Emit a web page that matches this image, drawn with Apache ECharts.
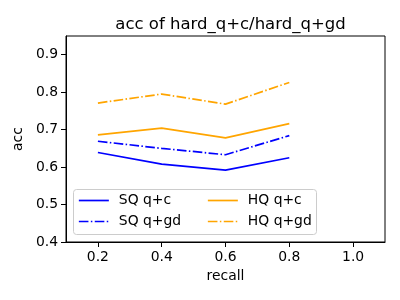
<!DOCTYPE html>
<html><head><meta charset="utf-8">
<script src="https://cdn.jsdelivr.net/npm/echarts@6/dist/echarts.min.js"></script>
<style>html,body{margin:0;padding:0;background:#fff}#c{width:400px;height:300px}</style>
</head><body><div id="c"></div>
<script>
const recall = [0.2, 0.4, 0.6, 0.8];
const sqQC = [0.639, 0.608, 0.592, 0.625];
const sqQGD = [0.669, 0.650, 0.633, 0.684];
const hqQC = [0.686, 0.704, 0.678, 0.716];
const hqQGD = [0.771, 0.795, 0.768, 0.826];
const xTicks = [0.2, 0.4, 0.6, 0.8, 1.0];
const yTicks = [0.4, 0.5, 0.6, 0.7, 0.8, 0.9];

const F = 'DejaVu Sans';
const dashDot = [9.6, 2.4, 1.5, 2.4];
function mk(name, vals, color, type) {
  return {
    name, type: 'line', data: recall.map((x, i) => [x, vals[i]]),
    symbol: 'none', showSymbol: false,
    lineStyle: { color, width: 1.7, type },
    itemStyle: { color },
    animation: false
  };
}
const chart = echarts.init(document.getElementById('c'), null, { renderer: 'canvas' });
const legendCommon = {
  orient: 'vertical', itemWidth: 30, itemHeight: 14, itemGap: 7, padding: 0,
  itemStyle: { opacity: 0 },
  lineStyle: { width: 1.7 },
  textStyle: { fontFamily: F, fontSize: 13.9, color: '#000', padding: [0, 0, 0, 5] },
  selectedMode: false
};
chart.setOption({
  animation: false,
  title: {
    text: 'acc of hard_q+c/hard_q+gd', left: 225.5, textAlign: 'center', top: 11,
    textStyle: { fontFamily: F, fontSize: 16.5, fontWeight: 'normal', color: '#000' }
  },
  grid: { left: 66, right: 15, top: 36, bottom: 58, show: true, borderColor: '#000', borderWidth: 1 },
  xAxis: {
    type: 'value', min: 0.1, max: 1.1,
    name: 'recall', nameLocation: 'middle', nameGap: 27,
    nameTextStyle: { fontFamily: F, fontSize: 13.9, color: '#000' },
    axisLine: { show: true, lineStyle: { color: '#000' } },
    axisTick: { show: true, length: 5, lineStyle: { color: '#000' }, customValues: xTicks },
    axisLabel: { fontFamily: F, fontSize: 13.9, color: '#000', margin: 8, customValues: xTicks,
      formatter: v => v.toFixed(1) },
    splitLine: { show: false }
  },
  yAxis: {
    type: 'value', min: 0.4, max: 0.95,
    name: 'acc', nameLocation: 'middle', nameGap: 34,
    nameTextStyle: { fontFamily: F, fontSize: 13.9, color: '#000' },
    axisLine: { show: true, lineStyle: { color: '#000' } },
    axisTick: { show: true, length: 5, lineStyle: { color: '#000' }, customValues: yTicks },
    axisLabel: { fontFamily: F, fontSize: 13.9, color: '#000', margin: 8, customValues: yTicks,
      formatter: v => v.toFixed(1) },
    splitLine: { show: false }
  },
  legend: [
    Object.assign({ left: 78, top: 193.5, data: ['SQ q+c', 'SQ q+gd'] }, legendCommon),
    Object.assign({ left: 207, top: 193.5, data: ['HQ q+c', 'HQ q+gd'] }, legendCommon)
  ],
  graphic: [{
    type: 'rect', shape: { x: 73.5, y: 189.5, width: 243, height: 45, r: 3 },
    style: { fill: 'rgba(255,255,255,0.8)', stroke: '#cccccc', lineWidth: 1 }, z: 0, zlevel: 0
  }],
  series: [
    mk('SQ q+c', sqQC, '#0000ff', 'solid'),
    mk('SQ q+gd', sqQGD, '#0000ff', dashDot),
    mk('HQ q+c', hqQC, '#ffa500', 'solid'),
    mk('HQ q+gd', hqQGD, '#ffa500', dashDot)
  ]
});
</script></body></html>
